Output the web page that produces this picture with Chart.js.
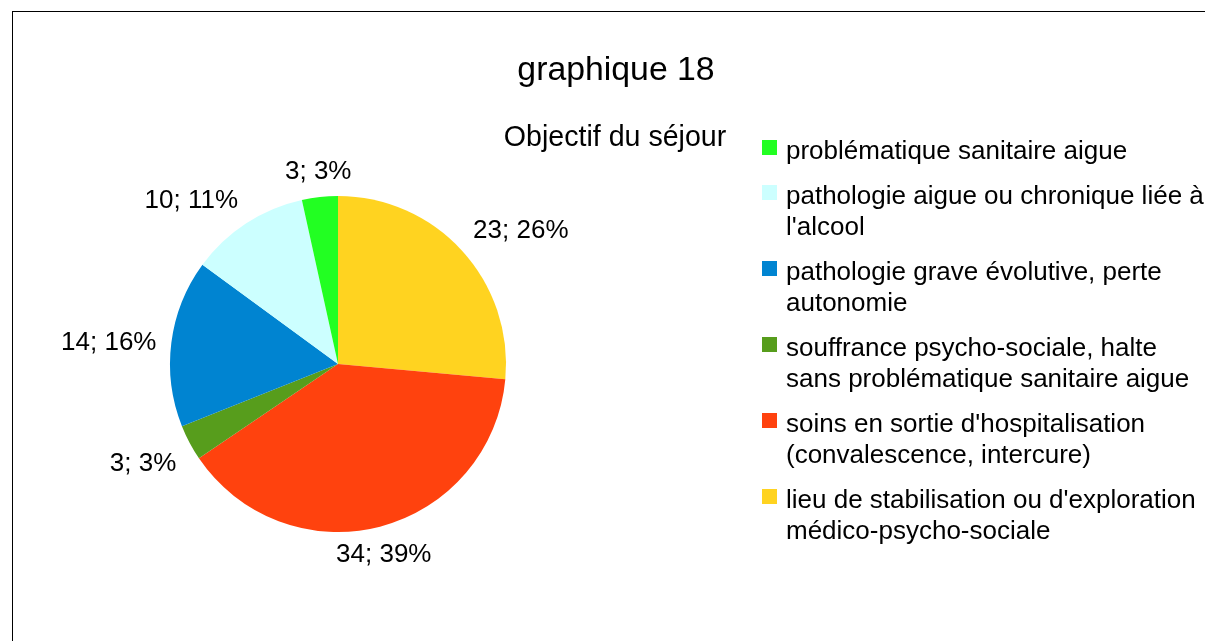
<!DOCTYPE html>
<html lang="fr">
<head>
<meta charset="utf-8">
<title>graphique 18</title>
<script src="https://cdn.jsdelivr.net/npm/chart.js@4.4.1/dist/chart.umd.min.js"></script>
<style>
  html, body { margin: 0; padding: 0; background: #fff; }
  #wrap { position: relative; width: 1205px; height: 641px; }
</style>
</head>
<body>
<div id="wrap"><canvas id="chart-18" width="1205" height="641"></canvas></div>
<script>
// Legend order (as in the original legend)
const categories = [
    ['problématique sanitaire aigue'],
    ['pathologie aigue ou chronique liée à', "l'alcool"],
    ['pathologie grave évolutive, perte', 'autonomie'],
    ['souffrance psycho-sociale, halte', 'sans problématique sanitaire aigue'],
    ["soins en sortie d'hospitalisation", '(convalescence, intercure)'],
    ["lieu de stabilisation ou d'exploration", 'médico-psycho-sociale'],
];
const values = [3, 10, 14, 3, 34, 23];
const sliceColors = ['#22ff22', '#ccffff', '#0084d1', '#579d1c', '#ff420e', '#ffd320'];

const titleText = 'graphique 18';
const subtitleText = 'Objectif du séjour';

const FONT = "'Liberation Sans', Arial, sans-serif";

// The original pie runs counter-clockwise from 12 o'clock; Chart.js goes clockwise,
// so the dataset is fed in reverse order.
const pieLabels = categories.map(c => c.join(' ')).reverse();
const pieValues = values.slice().reverse();
const pieColors = sliceColors.slice().reverse();

const total = values.reduce((a, b) => a + b, 0);

// Frame, title, subtitle and legend
const decorPlugin = {
    id: 'decor',
    beforeDraw(chart) {
        const ctx = chart.ctx;
        ctx.save();
        ctx.fillStyle = '#fff';
        ctx.fillRect(0, 0, chart.width, chart.height);
        ctx.strokeStyle = '#000';
        ctx.lineWidth = 1;
        ctx.strokeRect(12.5, 11.5, chart.width + 50, chart.height + 50);
        ctx.restore();
    },
    afterDraw(chart) {
        const ctx = chart.ctx;
        ctx.save();
        ctx.fillStyle = '#000';
        ctx.textAlign = 'center';
        ctx.textBaseline = 'alphabetic';
        ctx.font = `33.8px ${FONT}`;
        ctx.fillText(titleText, 616, 80);
        ctx.font = `28.6px ${FONT}`;
        ctx.fillText(subtitleText, 615, 146);

        // legend
        ctx.textAlign = 'left';
        ctx.font = `26px ${FONT}`;
        let top = 140;
        categories.forEach((lines, i) => {
            ctx.fillStyle = sliceColors[i];
            ctx.fillRect(762, top, 15, 15);
            ctx.fillStyle = '#000';
            lines.forEach((line, j) => {
                ctx.fillText(line, 786, top + 19 + j * 31);
            });
            top += lines.length * 31 + 14;
        });
        ctx.restore();
    },
};

// Value labels "n; p%" outside each slice
const outerLabelPlugin = {
    id: 'outerLabels',
    afterDatasetsDraw(chart) {
        const ctx = chart.ctx;
        const meta = chart.getDatasetMeta(0);
        const size = 26;
        ctx.save();
        ctx.font = `${size}px ${FONT}`;
        ctx.fillStyle = '#000';
        ctx.textAlign = 'center';
        ctx.textBaseline = 'alphabetic';
        meta.data.forEach((arc, i) => {
            const { x, y, startAngle, endAngle, outerRadius } = arc.getProps(['x', 'y', 'startAngle', 'endAngle', 'outerRadius'], true);
            const mid = (startAngle + endAngle) / 2;
            const v = pieValues[i];
            const text = `${v}; ${Math.round(v / total * 100)}%`;
            const r = outerRadius + 15;
            const px = x + r * Math.cos(mid);
            const py = y + r * Math.sin(mid);
            // octant relative to 12 o'clock, clockwise
            let deg = (mid + Math.PI / 2) * 180 / Math.PI;
            deg = ((deg % 360) + 360) % 360;
            const oct = Math.round(deg / 45) % 8;
            const dirs = [[0, -1], [1, -1], [1, 0], [1, 1], [0, 1], [-1, 1], [-1, 0], [-1, -1]];
            const hw = ctx.measureText(text).width / 2;
            const hh = 12;
            const cx = px + dirs[oct][0] * hw;
            const cy = py + dirs[oct][1] * hh;
            ctx.fillText(text, cx, cy + 0.716 * size / 2);
        });
        ctx.restore();
    },
};

new Chart(document.getElementById('chart-18'), {
    type: 'pie',
    data: {
        labels: pieLabels,
        datasets: [{
            data: pieValues,
            backgroundColor: pieColors,
            borderWidth: 0,
            hoverOffset: 0,
        }],
    },
    options: {
        responsive: false,
        animation: false,
        layout: { padding: { left: 170, right: 699, top: 196, bottom: 109 } },
        plugins: {
            legend: { display: false },
            title: { display: false },
            tooltip: { enabled: false },
        },
    },
    plugins: [decorPlugin, outerLabelPlugin],
});
</script>
</body>
</html>
